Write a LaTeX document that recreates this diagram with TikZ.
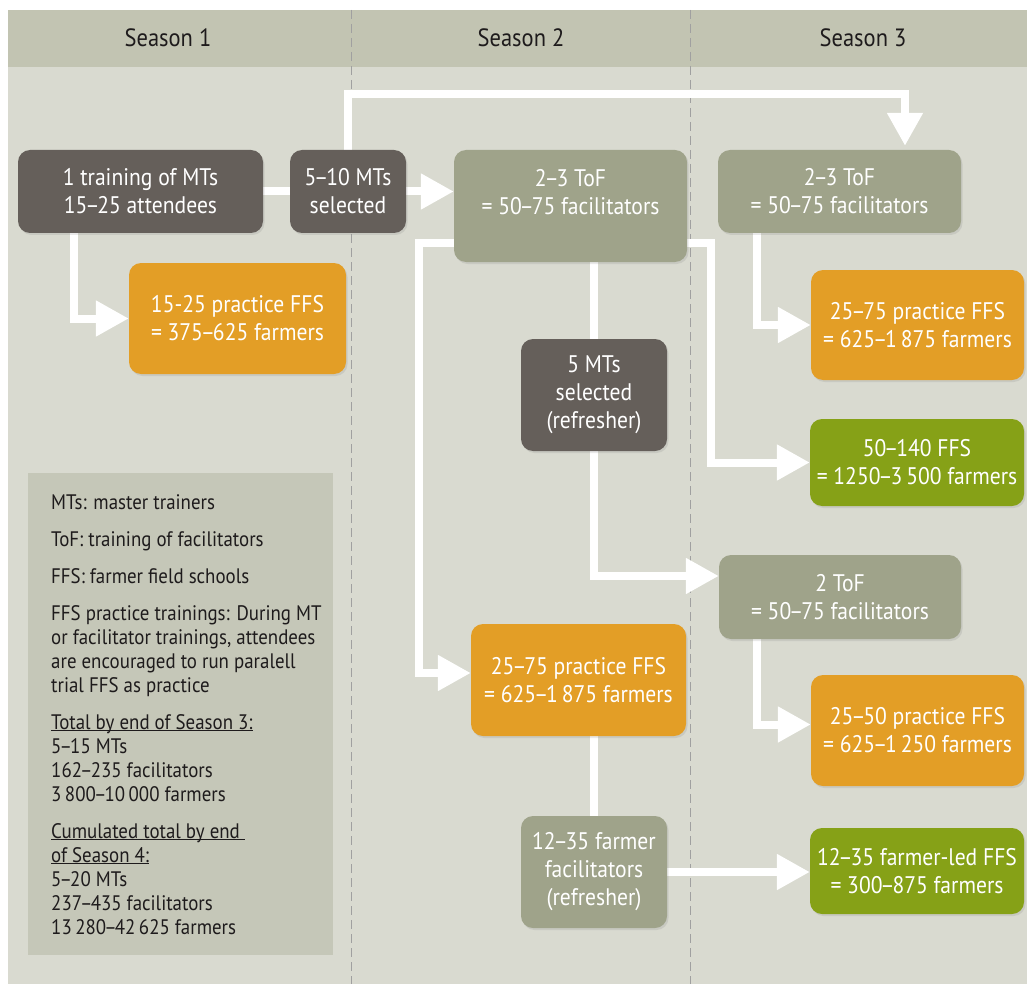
\documentclass[tikz,border=0pt]{standalone}
\usepackage{fontspec}
\setmainfont{PT Sans}[FakeStretch=0.9]
\usetikzlibrary{arrows.meta,shadows,calc}
\definecolor{panel}{RGB}{217,218,208}
\definecolor{header}{RGB}{194,196,178}
\definecolor{legendbg}{RGB}{197,199,184}
\definecolor{darkbox}{RGB}{101,95,90}
\definecolor{greybox}{RGB}{159,163,138}
\definecolor{orangebox}{RGB}{227,158,38}
\definecolor{greenbox}{RGB}{134,161,23}
\definecolor{dashcol}{RGB}{160,160,160}
\definecolor{txt}{RGB}{30,27,28}
\newcommand\ndsh{\kern-.09em–\kern-.09em}
\newcommand\ulsm[1]{\underline{\smash{#1}}}
\pgfdeclarelayer{bg}
\pgfdeclarelayer{mid}
\pgfsetlayers{bg,mid,main}
\begin{document}
\begin{tikzpicture}[x=1pt,y=-1pt,
  box/.style={rounded corners=12pt, text=white, align=center, inner sep=0pt,
    font=\fontsize{24}{28}\selectfont,
    drop shadow={opacity=0.18,shadow xshift=1.5pt,shadow yshift=-2pt}},
  sz/.style 2 args={minimum width=#1pt, minimum height=#2pt},
  darkb/.style={box, fill=darkbox},
  greyb/.style={box, fill=greybox},
  orangeb/.style={box, fill=orangebox},
  greenb/.style={box, fill=greenbox},
  conn/.style={draw=white, line width=8pt},
  arr/.style={conn, -{Triangle[length=33pt,width=34pt]}},
  season/.style={font=\fontsize{25}{30}\selectfont, text=txt, inner sep=0pt},
  dashln/.style={draw=dashcol, line width=1pt, dash pattern=on 9pt off 5pt}
]
\useasboundingbox (0,0) rectangle (1027,984);

% background
\begin{pgfonlayer}{bg}
  \fill[white] (0,0) rectangle (1027,984);
  \fill[panel] (8,10) rectangle (1027,984);
  \fill[header] (8,10) rectangle (1027,67);
  \draw[dashln] (351,10) -- (351,984);
  \draw[dashln] (690,10) -- (690,984);
  \node[fill=legendbg, anchor=north west, minimum width=305pt, minimum height=482pt, inner sep=0pt] (legbox) at (28,473) {};
\end{pgfonlayer}

\node[season] (s1) at (168,38) {Season 1};
\node[season] (s2) at (521,38) {Season 2};
\node[season] (s3) at (863,38) {Season 3};

% boxes
\node[darkb, sz={245}{83}] (A) at (140.5,191.5) {1 training of MTs\\15\ndsh 25 attendees};
\node[darkb, sz={116}{83}] (B) at (348,191.5) {5\ndsh 10 MTs\\selected};
\node[orangeb, sz={217}{111}] (C) at (237.5,318.5) {15-25 practice FFS\\= 375\ndsh 625 farmers};
\node[greyb, sz={233}{112}] (D) at (570.5,206) {2\ndsh 3 ToF\\= 50\ndsh 75 facilitators\\\mbox{}};
\node[greyb, sz={243}{83}] (E) at (839.5,191.5) {2\ndsh 3 ToF\\= 50\ndsh 75 facilitators};
\node[orangeb, sz={213}{110}] (F) at (917.5,325) {25\ndsh 75 practice FFS\\= 625\ndsh 1\,875 farmers};
\node[greenb, sz={214}{87}] (G) at (917,462.5) {50\ndsh 140 FFS\\= 1250\ndsh 3\,500 farmers};
\node[darkb, sz={146}{112}] (H) at (594,395) {5 MTs\\selected\\(refresher)};
\node[greyb, sz={242}{84}] (I) at (840,597) {2 ToF\\= 50\ndsh 75 facilitators};
\node[orangeb, sz={215}{112}] (J) at (578.5,680) {25\ndsh 75 practice FFS\\= 625\ndsh 1\,875 farmers};
\node[orangeb, sz={213}{111}] (K) at (917.5,730.5) {25\ndsh 50 practice FFS\\= 625\ndsh 1\,250 farmers};
\node[greyb, sz={146}{112}] (L) at (594,872) {12\ndsh 35 farmer\\facilitators\\(refresher)};
\node[greenb, sz={214}{86}] (M) at (917,871) {12\ndsh 35 farmer-led FFS\\= 300\ndsh 875 farmers};

% legend text
\node[anchor=north west, inner sep=0pt, align=left, text=txt,
      font=\fontsize{21}{24}\selectfont] (legtext) at ([xshift=23pt,yshift=-21pt]legbox.north west)
{MTs: master trainers\\[13pt]
ToF: training of facilitators\\[13pt]
FFS: farmer field schools\\[13pt]
FFS practice trainings: During MT\\
or facilitator trainings, attendees\\
are encouraged to run paralell\\
trial FFS as practice\\[13pt]
\ulsm{Total by end of Season 3:}\\
5\ndsh 15 MTs\\
162\ndsh 235 facilitators\\
3\,800\ndsh 10\,000 farmers\\[13pt]
\ulsm{Cumulated total by end\ }\\
\ulsm{of Season 4:}\\
5\ndsh 20 MTs\\
237\ndsh 435 facilitators\\
13\,280\ndsh 42\,625 farmers};

% connectors
\begin{pgfonlayer}{mid}
  \draw[conn] (A.east) -- (B.west);
  \draw[arr] (B.east) -- (B.east -| D.west);
  \draw[arr] ([xshift=56pt]A.south west) |- (C.west);
  \draw[arr, shorten >=4pt] (B.north) -- (B.north |- 0,94) -| ([xshift=65.5pt]E.north);
  \draw[conn] (D.south -| H.north) -- (H.north);
  \draw[arr] (H.south) |- ([yshift=21pt]I.west);
  \draw[arr] (D.west |- 0,243) -| (419,673) -- (J.west |- 0,673);
  \draw[arr] (D.east |- 0,243) -| (G.west -| 711,0) -- (G.west);
  \draw[arr] ([xshift=-82.5pt]E.south) |- (F.west);
  \draw[arr] ([xshift=-83pt]I.south) |- ([yshift=6pt]K.west);
  \draw[conn] (J.south -| L.north) -- (L.north);
  \draw[arr] (L.east) -- (L.east -| M.west);
\end{pgfonlayer}
\end{tikzpicture}
\end{document}
